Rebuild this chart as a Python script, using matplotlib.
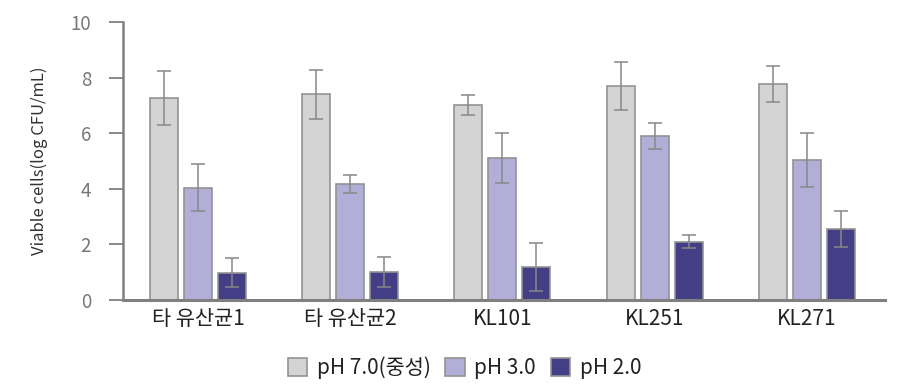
import matplotlib
matplotlib.use("Agg")
import matplotlib.pyplot as plt
import numpy as np

plt.rcParams['font.family'] = ['Noto Sans CJK KR', 'DejaVu Sans']

categories = ['타 유산균1', '타 유산균2', 'KL101', 'KL251', 'KL271']
series_names = ['pH 7.0(중성)', 'pH 3.0', 'pH 2.0']
ph7 = [7.27, 7.40, 7.03, 7.71, 7.77]
ph7_err = [0.98, 0.88, 0.36, 0.86, 0.64]
ph3 = [4.04, 4.17, 5.10, 5.90, 5.02]
ph3_err = [0.85, 0.33, 0.90, 0.48, 0.97]
ph2 = [0.98, 1.02, 1.20, 2.10, 2.55]
ph2_err = [0.52, 0.54, 0.86, 0.23, 0.65]
yticks = [0, 2, 4, 6, 8, 10]

colors = ['#d4d4d4', '#b1afd7', '#433e86']
edge = '#939393'

fig = plt.figure(figsize=(9, 3.9), dpi=100)
ax = fig.add_axes([0.1367, 0.2308, 0.8463, 0.7128])

x = np.arange(len(categories))
width = 0.184
offsets = [-0.223, 0.0, 0.223]
vals = [ph7, ph3, ph2]
errs = [ph7_err, ph3_err, ph2_err]
handles = []
for i in range(3):
    b = ax.bar(x + offsets[i], vals[i], width, color=colors[i], edgecolor=edge,
               linewidth=1.2, label=series_names[i], zorder=2)
    ax.errorbar(x + offsets[i], vals[i], yerr=errs[i], fmt='none', ecolor='#888888',
                elinewidth=1.1, capsize=4.8, capthick=1.1, zorder=3)
    handles.append(b)

ax.set_xlim(-0.493, 4.512)
ax.set_ylim(0, 10)
ax.set_yticks(yticks)
ax.set_xticks(x)
ax.set_xticklabels(categories, fontsize=15, color='#222222')
ax.tick_params(axis='x', length=0, pad=6)
ax.tick_params(axis='y', length=10, width=1.3, color='#808080', labelcolor='#777777',
               labelsize=13.5, pad=13, direction='out')
for s in ['top', 'right']:
    ax.spines[s].set_visible(False)
ax.spines['left'].set_color('#808080')
ax.spines['left'].set_linewidth(1.8)
ax.spines['bottom'].set_color('#808080')
ax.spines['bottom'].set_linewidth(2.2)
ax.set_ylabel('Viable cells(log CFU/mL)', fontsize=12, color='#333333', labelpad=16)

fig.legend(handles=handles, labels=series_names, loc='center',
           bbox_to_anchor=(0.516, 0.058), ncol=3, frameon=False, fontsize=15,
           handlelength=0.95, handleheight=0.95, handletextpad=0.45, columnspacing=0.7,
           labelcolor='#222222')

fig.savefig('out.png', dpi=100)
